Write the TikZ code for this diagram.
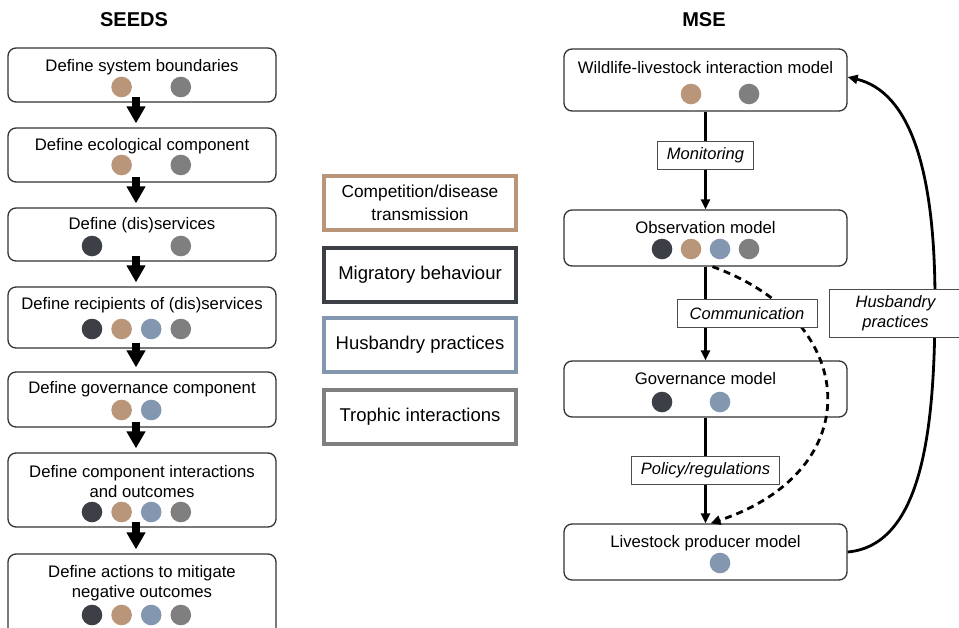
\documentclass[tikz,border=0pt]{standalone}
\usepackage{fontspec}
\setmainfont{Liberation Sans}
\usetikzlibrary{arrows.meta, positioning}

\definecolor{compcol}{HTML}{B9957A}
\definecolor{migrcol}{HTML}{3C4046}
\definecolor{husbcol}{HTML}{8497B0}
\definecolor{trophcol}{HTML}{7F7F7F}

% dots of the four interaction types, by slot number
\newcommand{\seedsdots}[2]{\foreach \s/\c in {#2} \fill[\c] ({92+29.6*(\s-1)},#1) circle[radius=10.3pt];}
\newcommand{\msedots}[2]{\foreach \s/\c in {#2} \fill[\c] ({662+29*(\s-1)},#1) circle[radius=10.3pt];}

\begin{document}
\begin{tikzpicture}[x=1pt, y=-1pt,
    seedbox/.style={draw=black!80, line width=1.3pt, rounded corners=8pt, minimum width=268pt, inner sep=0pt},
    msebox/.style={draw=black!80, line width=1.3pt, rounded corners=8pt, minimum width=283pt, inner sep=0pt},
    txt/.style={font=\fontsize{16.7}{20}\selectfont, align=center, inner sep=0pt},
    legbox/.style={line width=4pt, minimum width=192pt, minimum height=54pt, align=center,
        font=\fontsize{18.5}{22}\selectfont},
    lbl/.style={draw=black!70, line width=1pt, fill=white, minimum height=28pt, inner xsep=9pt,
        inner ysep=0pt, font=\itshape\fontsize{16.5}{20}\selectfont},
    blockarrow/.style={line width=8pt, -{Triangle[width=18pt,length=17pt]}},
    flow/.style={line width=2.8pt, -{Triangle[width=9pt,length=10pt]}},
    commline/.style={flow, dash pattern=on 7pt off 5pt}]

\useasboundingbox (0,0) rectangle (959,627);

% SEEDS
\node[font=\bfseries\fontsize{20}{24}\selectfont] (seeds) at (134,20) {SEEDS};

\node[seedbox, minimum height=54pt] (s1) at (142,75) {};
\node[txt] (s1t) at (142,67) {Define system boundaries};
\seedsdots{87}{2/compcol, 4/trophcol}

\node[seedbox, minimum height=54pt] (s2) at (142,155) {};
\node[txt] (s2t) at (142,146) {Define ecological component};
\seedsdots{165}{2/compcol, 4/trophcol}

\node[seedbox, minimum height=53pt] (s3) at (142,234.5) {};
\node[txt] (s3t) at (142,225) {Define (dis)services};
\seedsdots{246}{1/migrcol, 4/trophcol}

\node[seedbox, minimum height=61pt] (s4) at (142,317.5) {};
\node[txt] (s4t) at (142,305) {Define recipients of (dis)services};
\seedsdots{329}{1/migrcol, 2/compcol, 3/husbcol, 4/trophcol}

\node[seedbox, minimum height=55pt] (s5) at (142,399.5) {};
\node[txt] (s5t) at (142,389) {Define governance component};
\seedsdots{410}{2/compcol, 3/husbcol}

\node[seedbox, minimum height=74pt] (s6) at (142,490) {};
\node[txt] (s6t) at (142,482) {Define component interactions\\and outcomes};
\seedsdots{512}{1/migrcol, 2/compcol, 3/husbcol, 4/trophcol}

\node[seedbox, minimum height=86pt] (s7) at (142,597) {};
\node[txt] (s7t) at (142,583) {Define actions to mitigate\\negative outcomes};
\seedsdots{615}{1/migrcol, 2/compcol, 3/husbcol, 4/trophcol}

\foreach \a/\b in {s1/s2, s2/s3, s3/s4, s4/s5, s5/s6, s6/s7}
    \draw[blockarrow] ([xshift=-6pt,yshift=6pt]\a.south) -- ([xshift=-6pt,yshift=4pt]\b.north);

% legend
\node[legbox, draw=compcol, font=\fontsize{17.3}{23}\selectfont] (lcomp) at (420,203) {Competition/disease\\transmission};
\node[legbox, draw=migrcol] (lmigr) at (420,275) {Migratory behaviour};
\node[legbox, draw=husbcol] (lhusb) at (420,345) {Husbandry practices};
\node[legbox, draw=trophcol] (ltroph) at (420,417) {Trophic interactions};

% MSE
\node[font=\bfseries\fontsize{20}{24}\selectfont] (mse) at (704,20) {MSE};

\node[msebox, minimum height=62pt] (wild) at (705.5,80) {};
\node[txt] (wildt) at (705.5,68) {Wildlife-livestock interaction model};
\msedots{94}{2/compcol, 4/trophcol}

\node[msebox, minimum height=56pt] (obs) at (705.5,238) {};
\node[txt] (obst) at (705.5,228) {Observation model};
\msedots{249}{1/migrcol, 2/compcol, 3/husbcol, 4/trophcol}

\node[msebox, minimum height=56pt] (gov) at (705.5,389) {};
\node[txt] (govt) at (705.5,379) {Governance model};
\msedots{402}{1/migrcol, 3/husbcol}

\node[msebox, minimum height=56pt] (prod) at (705.5,552) {};
\node[txt] (prodt) at (705.5,543) {Livestock producer model};
\msedots{563}{3/husbcol}

\coordinate (hturn) at (935,300);
\draw[flow] (prod.east) .. controls (925,545) and (935,420) .. (hturn)
    .. controls (935,170) and (910,92) .. ([yshift=3pt]wild.east);
\node[lbl, align=center, minimum width=133pt, minimum height=48pt] (hlab) at (895.5,313) {Husbandry\\practices};

\draw[commline] ([xshift=7pt]obs.south) .. controls (860,320) and (870,470) .. ([xshift=5pt]prod.north);

\draw[flow] (wild) -- (obs) node[lbl, pos=0.45] {Monitoring};
\draw[flow] (obs) -- (gov) node[lbl, midway, xshift=41.5pt, minimum width=140pt] {Communication};
\draw[flow] (gov) -- (prod) node[lbl, midway, minimum width=148pt] {Policy/regulations};

\end{tikzpicture}
\end{document}
